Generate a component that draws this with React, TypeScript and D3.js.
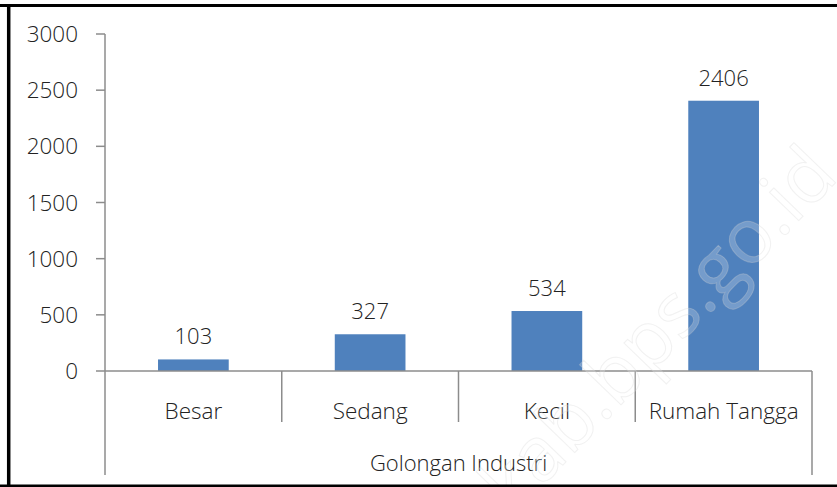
import React from "react";
import * as d3 from "d3";

const categories = ["Besar", "Sedang", "Kecil", "Rumah Tangga"];
const values = [103, 327, 534, 2406];
const yTicks = [0, 500, 1000, 1500, 2000, 2500, 3000];
const groupLabel = "Golongan Industri";
const watermark = "kab.bps.go.id";

const W = 837;
const H = 487;
const FONT = "'Open Sans', sans-serif";
const AXIS = "#8c8c8c";

export default function App() {
  const left = 105;
  const right = 812;
  const y = d3.scaleLinear().domain([0, 3000]).range([371, 34]);
  const x = d3
    .scaleBand<string>()
    .domain(categories)
    .range([left, right])
    .paddingInner(0.6)
    .paddingOuter(0.3);
  const step = x.step();
  const base = y(0);

  return (
    <div style={{ position: "fixed", left: 0, top: 0 }}>
      <svg width={W} height={H} style={{ display: "block", background: "#fff" }}>
        {/* bars */}
        {values.map((v, i) => (
          <rect
            key={categories[i]}
            x={x(categories[i])}
            y={y(v)}
            width={x.bandwidth()}
            height={base - y(v)}
            fill="#4f81bd"
          />
        ))}

        {/* value labels */}
        {values.map((v, i) => (
          <text
            key={"v" + i}
            x={(x(categories[i]) as number) + x.bandwidth() / 2}
            y={y(v) - 15}
            textAnchor="middle"
            fontFamily={FONT}
            fontWeight={300}
            fontSize={22}
            fill="#222"
          >
            {v}
          </text>
        ))}

        {/* y axis */}
        <line x1={left} x2={left} y1={y(3000)} y2={475} stroke={AXIS} strokeWidth={1.5} />
        {yTicks.map((t) => (
          <g key={t}>
            <line x1={96} x2={left} y1={y(t)} y2={y(t)} stroke={AXIS} strokeWidth={1.5} />
            <text
              x={78}
              y={y(t)}
              dy="0.36em"
              textAnchor="end"
              fontFamily={FONT}
              fontWeight={300}
              fontSize={22.5}
              fill="#222"
            >
              {t}
            </text>
          </g>
        ))}

        {/* category axis */}
        <line x1={left} x2={right} y1={base} y2={base} stroke={AXIS} strokeWidth={1.5} />
        {categories.map((c, i) =>
          i === 0 ? null : (
            <line
              key={"s" + c}
              x1={left + i * step}
              x2={left + i * step}
              y1={base}
              y2={422}
              stroke={AXIS}
              strokeWidth={1.5}
            />
          )
        )}
        <line x1={right} x2={right} y1={base} y2={475} stroke={AXIS} strokeWidth={1.5} />
        {categories.map((c) => (
          <text
            key={"c" + c}
            x={(x(c) as number) + x.bandwidth() / 2}
            y={419}
            textAnchor="middle"
            fontFamily={FONT}
            fontWeight={300}
            fontSize={22.5}
            fill="#222"
          >
            {c}
          </text>
        ))}
        <text
          x={(left + right) / 2}
          y={471}
          textAnchor="middle"
          fontFamily={FONT}
          fontWeight={300}
          fontSize={22}
          fill="#222"
        >
          {groupLabel}
        </text>

        {/* watermark, drawn over the bars */}
        <text
          transform="translate(840,178) rotate(-46)"
          textAnchor="end"
          fontFamily={FONT}
          fontSize={76}
          fill="#ffffff"
          fillOpacity={0.22}
          stroke="#d0d0d0"
          strokeOpacity={0.3}
          strokeWidth={1}
        >
          {watermark}
        </text>

        {/* frame */}
        <line x1={0} x2={W} y1={5.5} y2={5.5} stroke="#000" strokeWidth={3} />
        <line x1={8.7} x2={8.7} y1={4} y2={H} stroke="#000" strokeWidth={3.5} />
        <line x1={0} x2={W} y1={486} y2={486} stroke="#000" strokeWidth={3} />
      </svg>
    </div>
  );
}
